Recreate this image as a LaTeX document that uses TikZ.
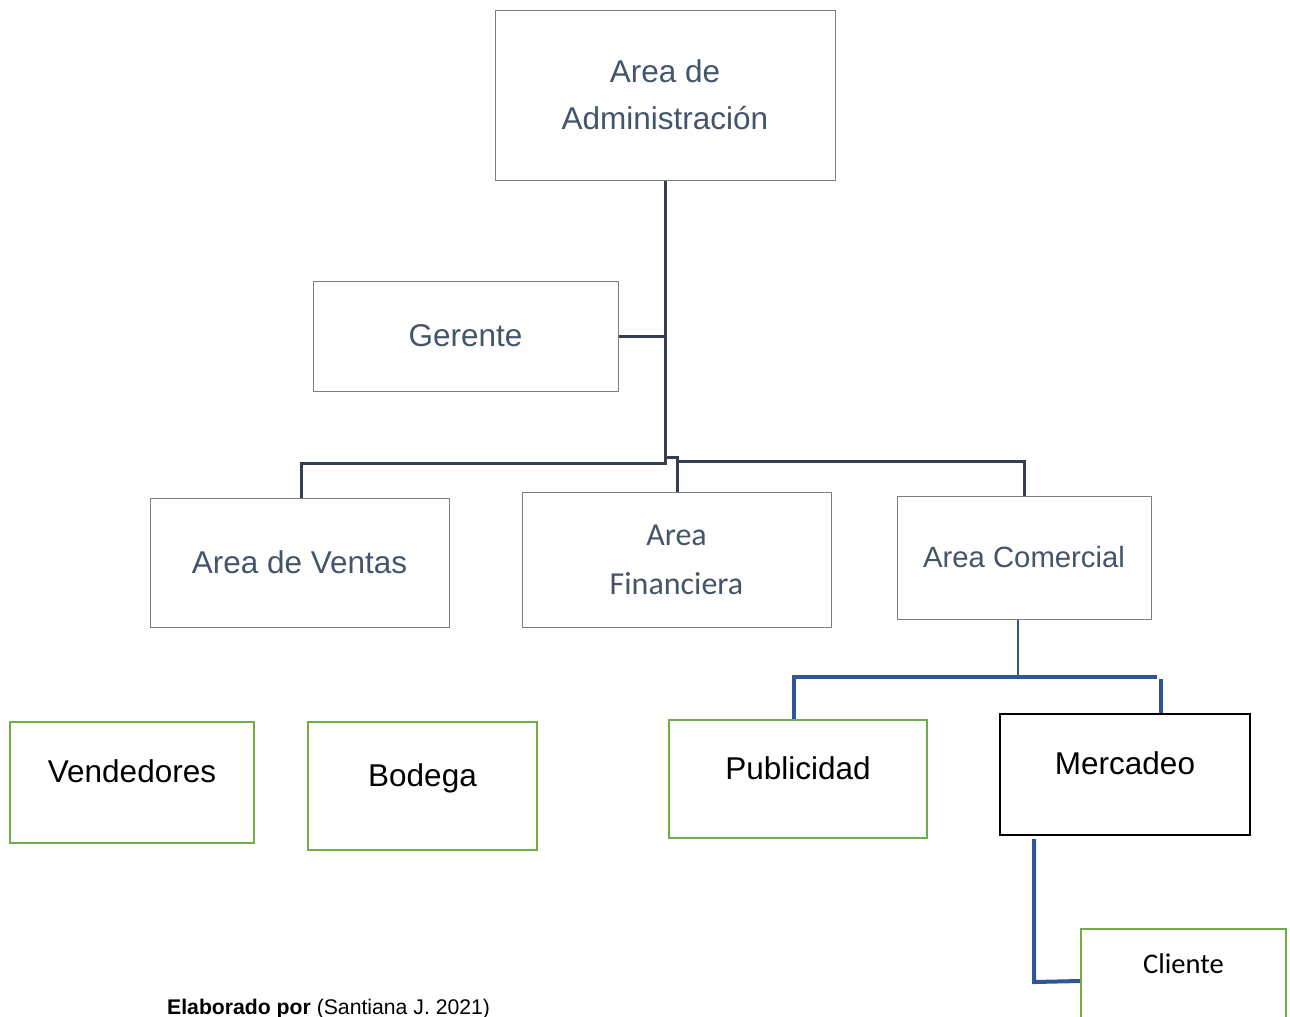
\documentclass[tikz,border=0pt]{standalone}
\usepackage{fontspec}
\setmainfont{Liberation Sans}
\newfontfamily\calib{Carlito}
\definecolor{slate}{HTML}{44546A}
\definecolor{darkln}{HTML}{333F50}
\definecolor{blueln}{HTML}{2F5597}
\definecolor{grn}{HTML}{70AD47}
\definecolor{boxgray}{HTML}{7F7F7F}
\begin{document}
\begin{tikzpicture}[x=1pt,y=-1pt,
  graybox/.style={draw=boxgray,line width=1pt,inner sep=0pt,align=center,text=slate,
    font=\fontsize{31.5}{47}\selectfont},
  greenbox/.style={draw=grn,line width=2.2pt,inner sep=0pt,align=center,text=black,
    font=\fontsize{31.5}{40}\selectfont},
  darkc/.style={draw=darkln,line width=3pt},
  bluec/.style={draw=blueln,line width=2.6pt},
  bluethick/.style={draw=blueln,line width=4pt}]
\useasboundingbox (0,0) rectangle (1290,1017);
\clip (0,0) rectangle (1290,1017);
\fill[white] (0,0) rectangle (1290,1017);

% gray boxes
\node[graybox,minimum width=340pt,minimum height=170pt] (admin) at (665,95) {Area de\\Administración};
\node[graybox,minimum width=305pt,minimum height=110pt] (ger) at (465.5,336) {Gerente};
\node[graybox,minimum width=299pt,minimum height=129pt] (ven) at (299.5,562.5) {Area de Ventas};
\node[graybox,minimum width=309pt,minimum height=135pt,font=\calib\fontsize{32}{49}\selectfont] (fin) at (676.5,559.5) {Area\\Financiera};
\node[graybox,minimum width=254pt,minimum height=123pt,font=\fontsize{29.3}{40}\selectfont] (com) at (1024,557.5) {Area Comercial};

% green / black boxes
\node[greenbox,minimum width=244pt,minimum height=121pt,
  label={[font=\fontsize{31.5}{40}\selectfont,yshift=11pt]center:Vendedores}] (vend) at (132,782.5) {};
\node[greenbox,minimum width=229pt,minimum height=128pt,
  label={[font=\fontsize{31.5}{40}\selectfont,yshift=8pt]center:Bodega}] (bod) at (422.5,786) {};
\node[greenbox,minimum width=258pt,minimum height=118pt,
  label={[font=\fontsize{31.5}{40}\selectfont,yshift=11pt]center:Publicidad}] (pub) at (798,779) {};
\node[draw=black,line width=2.6pt,inner sep=0pt,minimum width=250pt,minimum height=121pt,
  label={[font=\fontsize{31.5}{40}\selectfont,yshift=11pt]center:Mercadeo}] (mer) at (1125,774.5) {};
\node[greenbox,minimum width=205pt,minimum height=140pt,anchor=north,
  label={[font=\calib\fontsize{28.5}{36}\selectfont,yshift=-49pt]north:Cliente}] (cli) at (1183.5,928) {};

% dark connectors
\draw[darkc] (admin.south) -- (665,463);
\draw[darkc] (ger.east) -- (665,336);
\draw[darkc] (ven.north -| 301,0) -- (301,463) -- (666.5,463);
\draw[darkc] (665,457) -- (677,457) -- (fin.north -| 677,0);
\draw[darkc] (677,461.5) -| (com.north);

% blue connectors
\coordinate (bj) at (1018,677);
\draw[bluec] (com.south -| bj) -- (bj);
\draw[bluethick] (pub.north -| 794,0) -- (794,677) -- (1157,677);
\draw[bluethick] (1161,679) -- (mer.north -| 1161,0);
\draw[bluethick] (1034,839) -- (1034,982) -- (cli.west |- 0,981);

% caption
\node[anchor=base west,inner sep=0pt,font=\fontsize{21.2}{25}\selectfont] (cap) at (167,1014)
  {\textbf{Elaborado por} (Santiana J. 2021)};
\end{tikzpicture}
\end{document}
